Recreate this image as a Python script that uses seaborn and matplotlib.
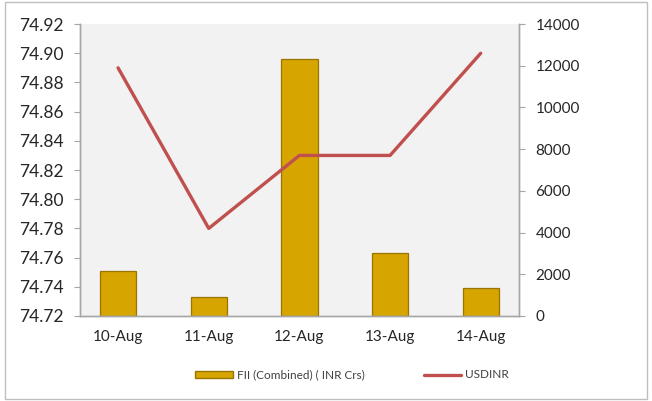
import matplotlib
matplotlib.use("Agg")
import matplotlib.pyplot as plt
import seaborn as sns
import pandas as pd
from matplotlib.patches import Rectangle

# data
dates = ["10-Aug", "11-Aug", "12-Aug", "13-Aug", "14-Aug"]
fii_inr_crs = [2150, 930, 12320, 3000, 1330]
usdinr = [74.89, 74.78, 74.83, 74.83, 74.90]

df = pd.DataFrame({"date": dates, "fii": fii_inr_crs, "usdinr": usdinr})

sns.set_style("white")
plt.rcParams["font.family"] = ["Lato", "DejaVu Sans"]

fig = plt.figure(figsize=(6.52, 4.01), dpi=100)
ax = fig.add_axes([0.1227, 0.212, 0.673, 0.728])
ax.set_facecolor("#F2F2F2")
ax2 = ax.twinx()

# bars on the primary axes, scale shown on the right
sns.barplot(data=df, x="date", y="fii", ax=ax, color="#D6A500", width=0.4,
            edgecolor="#9A7400", linewidth=0.9, saturation=1)
ax.set_ylim(0, 14000)
ax.set_yticks(range(0, 14001, 2000))
ax.set_xlabel("")
ax.set_ylabel("")

# line on the twin axes, scale on the left
sns.lineplot(data=df, x="date", y="usdinr", ax=ax2, color="#C0504D", linewidth=2.4)
ax2.set_ylim(74.72, 74.92)
ax2.set_yticks([74.72 + 0.02 * i for i in range(11)])
ax2.set_yticklabels([f"{74.72 + 0.02 * i:.2f}" for i in range(11)])
ax2.set_ylabel("")

# swap the sides after twinning
ax.yaxis.tick_right()
ax2.yaxis.tick_left()
ax.tick_params(axis="y", labelsize=11, labelcolor="#262626", color="#A6A6A6",
               length=4, width=0.8, direction="out", right=True, left=False, pad=8)
ax.tick_params(axis="x", labelsize=11, labelcolor="#262626", length=0, pad=10)
ax2.tick_params(axis="y", labelsize=12.5, labelcolor="#262626", color="#A6A6A6",
                length=4, width=0.8, direction="out", left=True, right=False, pad=8)

for a in (ax, ax2):
    a.spines["top"].set_visible(False)
    for side in ("left", "right", "bottom"):
        a.spines[side].set_color("#A6A6A6")
        a.spines[side].set_linewidth(1)

handles = [Rectangle((0, 0), 1, 1, facecolor="#D6A500", edgecolor="#9A7400"),
           plt.Line2D([0], [0], color="#C0504D", linewidth=2.4)]
fig.legend(handles, ["FII (Combined) ( INR Crs)", "USDINR"], loc="center",
           bbox_to_anchor=(0.54, 0.065), ncol=2, frameon=False, fontsize=8.5,
           handlelength=3.2, handleheight=0.5, handletextpad=0.3,
           columnspacing=5, labelcolor="#404040")

# outer chart border
fig.patches.append(Rectangle((0.008, 0.004), 0.985, 0.99, transform=fig.transFigure,
                             fill=False, edgecolor="#BFBFBF", linewidth=1))

fig.savefig("out.png", dpi=100)
